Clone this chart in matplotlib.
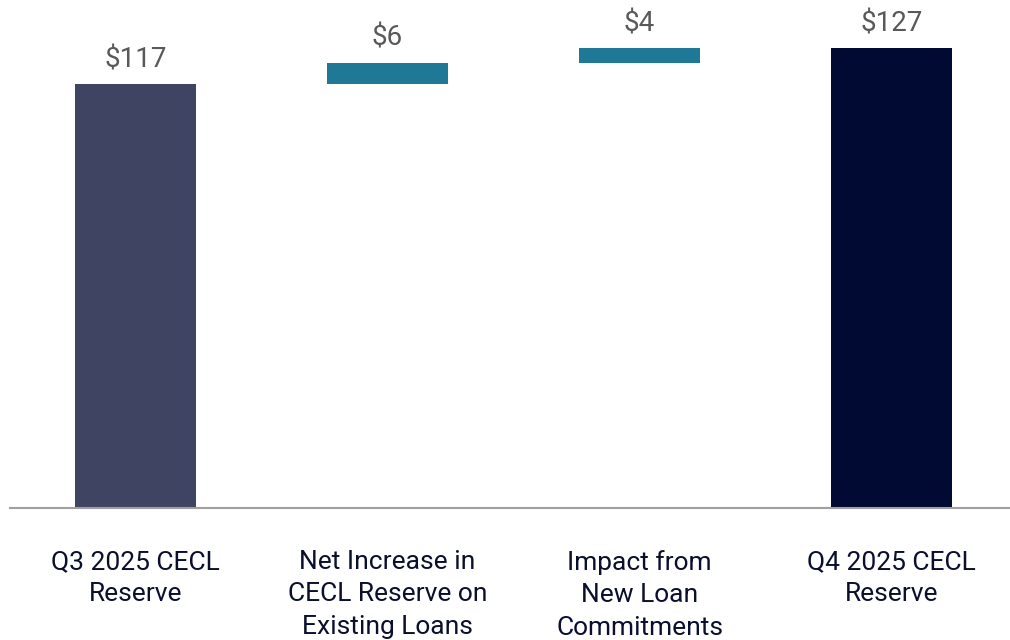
import matplotlib
matplotlib.use("Agg")
import matplotlib.pyplot as plt

# CECL reserve bridge, $ in millions
labels = ["Q3 2025 CECL\nReserve",
          "Net Increase in\nCECL Reserve on\nExisting Loans",
          "Impact from\nNew Loan\nCommitments",
          "Q4 2025 CECL\nReserve"]
values = [117, 6, 4, 127]
value_text = ["$117", "$6", "$4", "$127"]
colors = ["#3f4462", "#1f7895", "#1f7895", "#000a33"]

# waterfall: totals start at zero, steps start where the previous one ended
bottoms = []
running = 0
for i, v in enumerate(values):
    if i == 0 or i == len(values) - 1:
        bottoms.append(0)
        running = v
    else:
        bottoms.append(running)
        running += v

plt.rcParams['font.family'] = ['Roboto', 'DejaVu Sans']

fig = plt.figure(figsize=(10.1, 6.4), dpi=100)
ax = fig.add_axes([10 / 1010, 132 / 640, 1000 / 1010, 508 / 640])

x = list(range(len(values)))
ax.bar(x, values, bottom=bottoms, width=0.48, color=colors)

for xi, v, b, t in zip(x, values, bottoms, value_text):
    ax.annotate(t, (xi, v + b), xytext=(0, 8), textcoords="offset points",
                ha="center", va="bottom", fontsize=20, color="#595959")

ax.set_xlim(-0.498, 3.47)
ax.set_ylim(0, 140.3)
ax.set_xticks(x)
ax.set_xticklabels(labels, fontsize=19, color="#0a0f2e", linespacing=1.46)
ax.tick_params(axis="x", length=0, pad=30)
ax.set_yticks([])
for side in ["top", "right", "left"]:
    ax.spines[side].set_visible(False)
ax.spines["bottom"].set_color("#a0a0a0")
ax.spines["bottom"].set_linewidth(1.5)

fig.savefig("out.png", dpi=100)
